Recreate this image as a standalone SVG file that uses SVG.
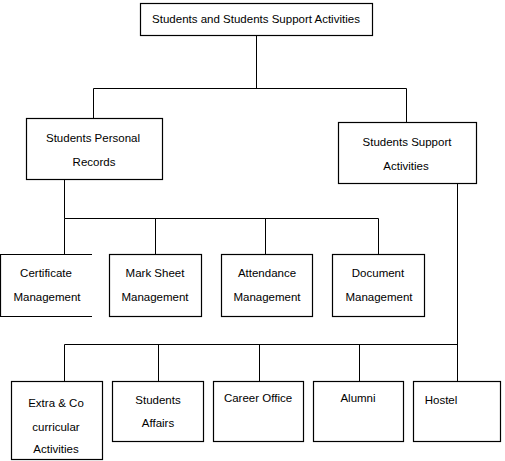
<svg xmlns="http://www.w3.org/2000/svg" width="505" height="461" viewBox="0 0 505 461">
<style>
.b{fill:#fff;stroke:#000;stroke-width:1.2}
.c{fill:none;stroke:#000;stroke-width:1}
text{font-family:"Liberation Sans",Arial,sans-serif;font-size:11.5px;fill:#000;text-anchor:middle}
</style>
<rect width="505" height="461" fill="#fff"/>
<g id="connectors">
<path class="c" d="M256.5,36 V88.5 M93.5,88.5 H406.5 M93.5,88.5 V118 M406.5,88.5 V122"/>
<path class="c" d="M64.5,179 V218.5 H378.5 M64.5,218.5 V254 M155.5,218.5 V254 M265.5,218.5 V254 M378.5,218.5 V254"/>
<path class="c" d="M457.5,183 V381 M64.5,344.5 H457.5 M64.5,344.5 V381 M158.5,344.5 V381 M259.5,344.5 V381 M359.5,344.5 V381"/>
</g>
<g id="root"><rect class="b" x="140.5" y="3.5" width="232" height="32"/><text x="256" y="23">Students and Students Support Activities</text></g>
<g id="spr"><rect class="b" x="26.5" y="118.5" width="136" height="61"/><text x="93" y="142">Students Personal</text><text x="94" y="166">Records</text></g>
<g id="ssa"><rect class="b" x="338.5" y="122.5" width="138" height="61"/><text x="407" y="146">Students Support</text><text x="406" y="170">Activities</text></g>
<g id="cert"><path class="b" d="M92,254.5 H0.5 V316.5 H92" fill="none"/><text x="46" y="277">Certificate</text><text x="47" y="301">Management</text></g>
<g id="mark"><rect class="b" x="109.5" y="254.5" width="92" height="62"/><text x="155" y="277">Mark Sheet</text><text x="155" y="301">Management</text></g>
<g id="att"><rect class="b" x="221.5" y="254.5" width="91" height="62"/><text x="267" y="277">Attendance</text><text x="267" y="301">Management</text></g>
<g id="doc"><rect class="b" x="332.5" y="254.5" width="92" height="62"/><text x="378" y="277">Document</text><text x="379" y="301">Management</text></g>
<g id="extra"><rect class="b" x="11.5" y="381.5" width="91" height="78"/><text x="56" y="407">Extra &amp; Co</text><text x="56" y="431">curricular</text><text x="56" y="453">Activities</text></g>
<g id="affairs"><rect class="b" x="112.5" y="381.5" width="91" height="60"/><text x="158" y="404">Students</text><text x="158" y="427">Affairs</text></g>
<g id="career"><rect class="b" x="213.5" y="381.5" width="90" height="60"/><text x="258" y="402">Career Office</text></g>
<g id="alumni"><rect class="b" x="313.5" y="381.5" width="90" height="60"/><text x="358" y="402">Alumni</text></g>
<g id="hostel"><rect class="b" x="413.5" y="381.5" width="87" height="60"/><text x="441" y="404">Hostel</text></g>
</svg>
